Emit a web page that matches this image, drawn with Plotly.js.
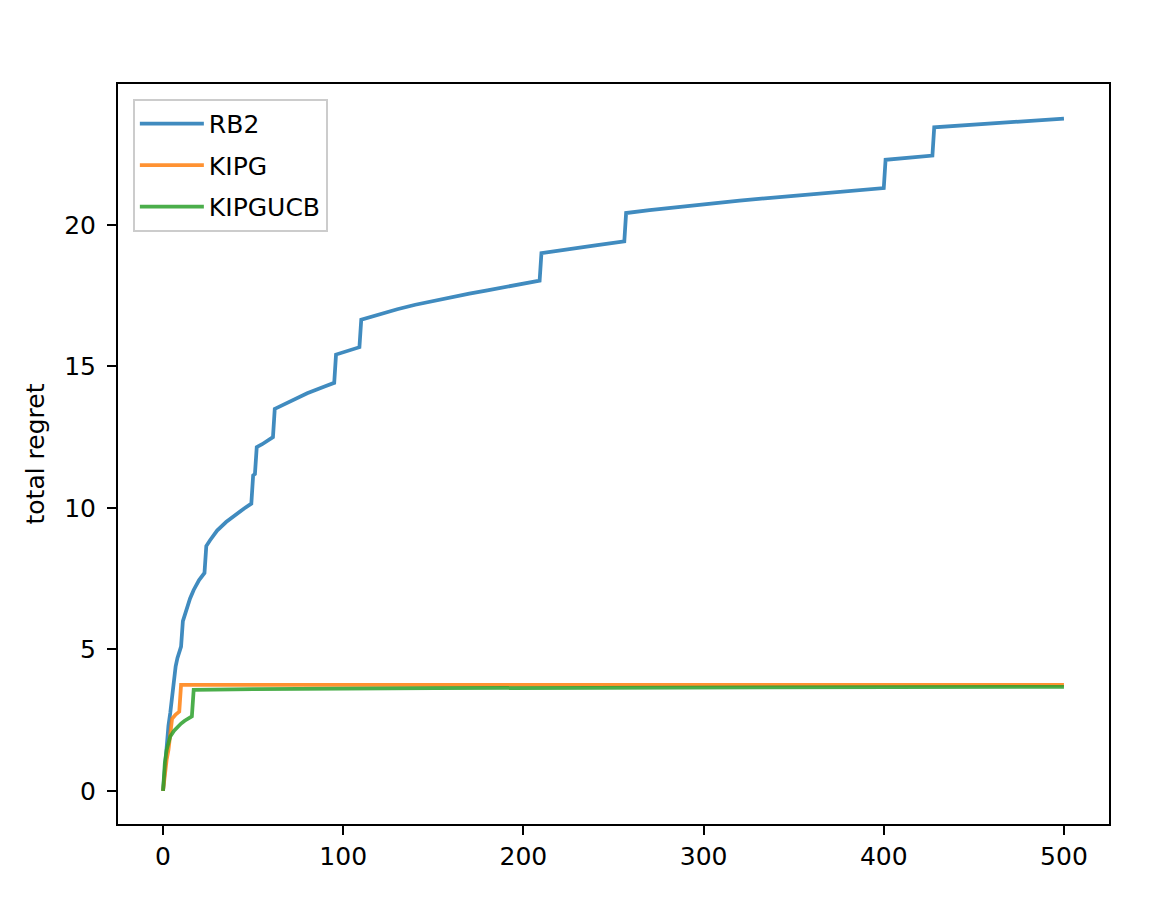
<!DOCTYPE html>
<html>
<head>
<meta charset="utf-8">
<script src="https://cdn.plot.ly/plotly-3.0.1.min.js"></script>
<style>html,body{margin:0;padding:0;background:#fff;}#chart{width:1152px;height:902px;}</style>
</head>
<body>
<div id="chart"></div>
<script>
// RB2 total regret
var rb2X = [0,1,2,3,4,5,6,7,8,10,11,13,15,17,20,23,24,26,30,35,40,45,49,50,51,52,55,61,62,70,80,90,95,96,100,109,110,120,130,140,150,160,170,180,190,200,209,210,220,240,256,257,270,285,300,320,350,380,400,401,427,428,450,475,500];
var rb2Y = [0,0.8,1.55,2.3,2.75,3.4,4.0,4.4,4.7,5.1,6.0,6.45,6.8,7.1,7.45,7.7,8.65,8.85,9.2,9.5,9.75,9.98,10.15,11.15,11.2,12.15,12.25,12.5,13.5,13.75,14.05,14.3,14.42,15.42,15.5,15.68,16.65,16.85,17.02,17.18,17.32,17.45,17.57,17.69,17.8,17.92,18.03,19.0,19.1,19.28,19.42,20.42,20.52,20.63,20.73,20.86,21.03,21.18,21.3,22.3,22.45,23.45,23.55,23.65,23.76];
// KIPG total regret
var kipgX = [0,1,2,3,4,5,7,9,10,100,200,300,400,500];
var kipgY = [0,0.7,1.1,1.45,2.1,2.55,2.7,2.8,3.75,3.75,3.75,3.75,3.75,3.75];
// KIPGUCB total regret
var ucbX = [0,1,2,3,4,6,8,10,12,15,16,17,50,150,300,500];
var ucbY = [0,1.0,1.45,1.75,1.92,2.12,2.27,2.38,2.48,2.6,2.63,3.57,3.6,3.63,3.66,3.68];

var seriesNames = ["RB2","KIPG","KIPGUCB"];
var colors = ["#1f77b4","#ff7f0e","#2ca02c"];
var xs = [rb2X, kipgX, ucbX];
var ys = [rb2Y, kipgY, ucbY];

var traces = seriesNames.map(function(n,i){
  return {x: xs[i], y: ys[i], type:"scatter", mode:"lines", name:n,
    legendgroup:"g"+i, opacity:0.85,
    line:{color:colors[i], width:3.75}};
});

var font = {family:"DejaVu Sans, sans-serif", size:25, color:"#000"};
var layout = {
  width:1152, height:902,
  paper_bgcolor:"#fff", plot_bgcolor:"#fff",
  margin:{l:118, r:43, t:84, b:78},
  font:font,
  showlegend:true,
  legend:{x:0.015, y:0.98, xanchor:"left", yanchor:"top",
    bgcolor:"rgba(255,255,255,0.8)", bordercolor:"#cccccc", borderwidth:2,
    font:font, entrywidth:215,
    traceorder:"grouped", tracegroupgap:6, itemwidth:64},
  xaxis:{range:[-25,525], showgrid:false, zeroline:false,
    showline:true, mirror:true, linecolor:"#000", linewidth:2,
    ticks:"outside", ticklen:9, tickwidth:2, tickcolor:"#000",
    tickvals:[0,100,200,300,400,500], tickfont:font},
  yaxis:{range:[-1.17,24.98], showgrid:false, zeroline:false,
    showline:true, mirror:true, linecolor:"#000", linewidth:2,
    ticks:"outside", ticklen:9, tickwidth:2, tickcolor:"#000",
    ticklabelstandoff:6,
    tickvals:[0,5,10,15,20], tickfont:font,
    title:{text:"total regret", font:font, standoff:12}}
};
Plotly.newPlot("chart", traces, layout, {displayModeBar:false});
</script>
</body>
</html>
